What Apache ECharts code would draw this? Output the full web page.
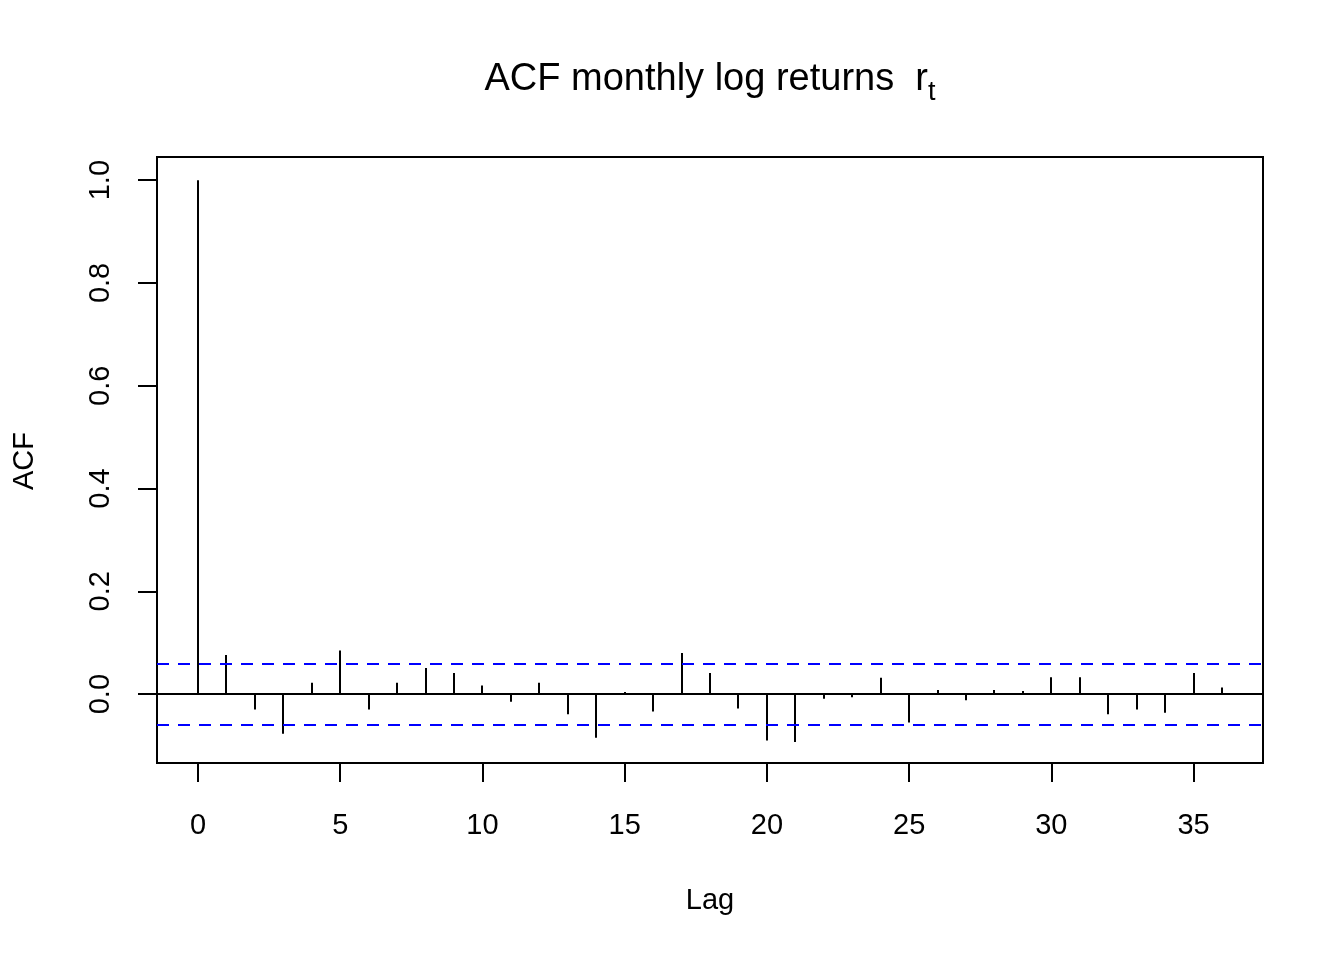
<!DOCTYPE html>
<html>
<head>
<meta charset="utf-8">
<script src="https://cdn.jsdelivr.net/npm/echarts@6/dist/echarts.min.js"></script>
<style>
  html, body { margin: 0; padding: 0; background: #ffffff; }
  #chart { width: 1344px; height: 960px; }
</style>
</head>
<body>
<div id="chart"></div>
<script>
// ---- data ----
const lags = [0,1,2,3,4,5,6,7,8,9,10,11,12,13,14,15,16,17,18,19,20,21,22,23,24,25,26,27,28,29,30,31,32,33,34,35,36];
const acfValues = [1.000, 0.076, -0.030, -0.077, 0.022, 0.085, -0.030, 0.022, 0.051, 0.041,
                   0.017, -0.015, 0.022, -0.039, -0.085, 0.004, -0.034, 0.080, 0.041, -0.028,
                   -0.090, -0.093, -0.009, -0.006, 0.032, -0.055, 0.008, -0.012, 0.008, 0.006,
                   0.033, 0.033, -0.039, -0.030, -0.036, 0.041, 0.013];
const ciBound = 0.057;
const xTickValues = [0, 5, 10, 15, 20, 25, 30, 35];
const yTickValues = [0, 0.2, 0.4, 0.6, 0.8, 1.0];
const titleMain = 'ACF monthly log returns  r';
const titleSub = 't';
const xName = 'Lag';
const yName = 'ACF';

const FONT = '"Liberation Sans", Arial, Helvetica, sans-serif';
const chart = echarts.init(document.getElementById('chart'), null, { renderer: 'canvas' });

const stemData = lags.map((l, i) => [l, acfValues[i]]);

const option = {
  backgroundColor: '#ffffff',
  animation: false,
  textStyle: { fontFamily: FONT },
  grid: {
    left: 157, top: 157, width: 1106, height: 606,
    show: true, borderColor: '#000', borderWidth: 2, backgroundColor: 'transparent'
  },
  xAxis: {
    type: 'value', min: -1.44, max: 37.44,
    axisLine: { show: false, onZero: false },
    splitLine: { show: false },
    axisTick: { show: true, customValues: xTickValues, length: 19, inside: false,
                lineStyle: { color: '#000', width: 2 } },
    axisLabel: { show: true, customValues: xTickValues, margin: 48,
                 color: '#000', fontSize: 29, fontFamily: FONT,
                 showMinLabel: true, showMaxLabel: true }
  },
  yAxis: {
    type: 'value', min: -0.134, max: 1.045,
    axisLine: { show: false, onZero: false },
    splitLine: { show: false },
    axisTick: { show: true, customValues: yTickValues, length: 19, inside: false,
                lineStyle: { color: '#000', width: 2 } },
    axisLabel: { show: true, customValues: yTickValues, margin: 42, rotate: 90,
                 color: '#000', fontSize: 29, fontFamily: FONT,
                 formatter: v => Number(v).toFixed(1) }
  },
  graphic: [
    { type: 'text', x: 710, y: 80,
      style: { text: '{m|' + titleMain + '}{s|' + titleSub + '}',
               align: 'center', verticalAlign: 'middle',
               rich: {
                 m: { fontSize: 38, lineHeight: 52, fontFamily: FONT, fill: '#000', color: '#000' },
                 s: { fontSize: 27, lineHeight: 52, fontFamily: FONT, verticalAlign: 'bottom', fill: '#000', color: '#000' }
               } } },
    { type: 'text', x: 710, y: 901,
      style: { text: xName, fontSize: 29, fontFamily: FONT, fill: '#000', align: 'center', verticalAlign: 'middle' } },
    { type: 'text', x: 25, y: 461, rotation: Math.PI / 2,
      style: { text: yName, fontSize: 29, fontFamily: FONT, fill: '#000', align: 'center', verticalAlign: 'middle' } }
  ],
  series: [
    {
      type: 'custom',
      data: stemData,
      clip: true,
      renderItem: function (params, api) {
        const x = api.value(0), y = api.value(1);
        const p0 = api.coord([x, 0]);
        const p1 = api.coord([x, y]);
        const px = Math.round(p0[0]);
        return {
          type: 'line',
          shape: { x1: px, y1: p0[1], x2: px, y2: p1[1] },
          style: { stroke: '#000', lineWidth: 2 }
        };
      },
      markLine: {
        silent: true, symbol: 'none', animation: false,
        label: { show: false },
        data: [
          { yAxis: 0, lineStyle: { color: '#000', width: 2, type: 'solid' } },
          { yAxis: ciBound, lineStyle: { color: '#0000ff', width: 2, type: [12, 9] } },
          { yAxis: -ciBound, lineStyle: { color: '#0000ff', width: 2, type: [12, 9] } }
        ]
      }
    }
  ]
};
chart.setOption(option);
</script>
</body>
</html>
